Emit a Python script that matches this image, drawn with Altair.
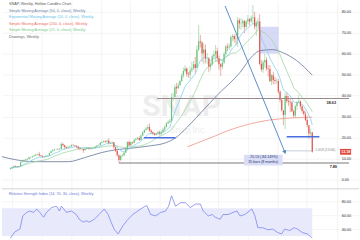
import altair as alt
import pandas as pd

# ---------------- data (weekly SNAP, week 0 = 2018-12-24) ----------------
close = [5.4, 5.9, 6.5, 6.2, 6.0, 6.3, 8.2, 8.6, 9.2, 9.5, 9.8, 10.6, 10.7, 11.0, 11.5, 11.9, 12.0, 11.4, 11.2, 10.8,
         10.9, 11.3, 11.4, 12.6, 13.5, 14.0, 14.3, 14.3, 14.6, 14.5, 17.0, 16.4, 15.5, 15.1, 15.5, 15.8, 16.4, 16.3, 16.1, 15.7,
         14.9, 14.5, 14.6, 14.0, 14.6, 15.1, 14.8, 14.6, 14.9, 15.0, 15.6, 16.2, 16.4, 17.5, 17.9, 18.3, 18.0, 18.5, 17.3, 17.5,
         17.8, 15.4, 13.7, 11.6, 9.3, 11.2, 11.5, 12.8, 14.4, 17.9, 16.2, 17.8, 17.5, 19.0, 19.5, 19.8, 18.9, 21.0, 22.4, 23.6,
         24.4, 25.1, 23.4, 22.5, 21.9, 21.4, 21.8, 22.6, 22.1, 22.7, 24.0, 25.0, 26.8, 27.5, 28.0, 39.4, 39.4, 44.2, 43.5, 45.0,
         47.0, 49.6, 51.8, 53.0, 50.3, 50.1, 52.0, 53.0, 55.0, 53.2, 62.0, 66.0, 65.4, 60.3, 62.0, 57.7, 57.8, 53.8, 55.0, 58.8,
         59.8, 61.3, 57.9, 55.0, 53.8, 55.7, 59.9, 63.5, 63.0, 63.5, 68.0, 68.5, 67.0, 66.9, 76.0, 74.5, 74.6, 75.6, 72.8, 75.5,
         76.5, 75.5, 77.2, 77.4, 73.0, 74.8, 75.4, 55.1, 52.5, 56.0, 57.0, 53.0, 52.8, 46.9, 49.8, 47.5, 47.0, 47.0, 42.0, 37.9,
         33.0, 30.8, 39.8, 37.5, 37.1, 36.8, 32.6, 30.5, 35.0, 36.9, 37.2, 35.0, 32.7, 31.1, 28.4, 26.0, 22.0, 22.4, 13.2]
high = [5.6, 6.0, 6.7, 6.6, 6.3, 6.5, 8.6, 8.9, 9.5, 9.9, 10.2, 10.8, 11.0, 11.3, 11.8, 12.3, 12.4, 13.2, 11.7, 11.4,
        11.2, 11.6, 11.8, 12.8, 13.8, 14.5, 14.6, 14.7, 14.9, 14.9, 17.8, 17.5, 16.6, 15.8, 16.1, 16.2, 16.8, 17.0, 16.5, 16.2,
        15.8, 15.1, 14.9, 14.7, 15.0, 15.4, 15.3, 15.0, 15.2, 15.3, 15.9, 16.4, 16.7, 17.8, 18.2, 18.6, 18.7, 19.0, 19.7, 17.9,
        18.3, 17.9, 15.8, 13.8, 12.0, 11.8, 12.2, 13.2, 14.8, 18.2, 18.5, 18.2, 18.0, 19.5, 20.0, 20.3, 20.6, 21.5, 23.1, 24.0,
        25.2, 26.1, 26.8, 24.0, 22.9, 22.4, 22.3, 23.2, 23.4, 23.4, 24.6, 25.8, 27.3, 28.2, 28.9, 41.2, 41.4, 45.4, 46.1, 46.3,
        47.6, 50.6, 53.4, 54.6, 53.5, 51.3, 53.8, 56.2, 56.6, 58.5, 64.0, 73.7, 69.0, 66.0, 65.0, 64.4, 60.3, 58.5, 56.2, 59.5,
        61.5, 64.2, 62.9, 59.2, 55.5, 57.4, 61.0, 64.2, 64.8, 65.0, 68.9, 69.5, 69.2, 69.2, 77.5, 77.0, 77.0, 76.6, 76.2, 76.0,
        78.5, 77.0, 78.3, 83.3, 80.0, 75.8, 77.0, 78.9, 57.0, 57.0, 60.0, 58.3, 54.6, 54.6, 50.3, 51.5, 48.9, 48.3, 48.0, 42.4,
        38.5, 33.0, 41.5, 41.7, 39.9, 38.7, 37.5, 33.4, 35.5, 37.3, 40.3, 37.8, 36.0, 33.5, 32.4, 30.0, 25.0, 24.2, 22.8]
low = [4.8, 5.3, 5.8, 6.0, 5.8, 5.9, 6.3, 8.0, 8.6, 9.0, 9.2, 9.6, 10.2, 10.4, 11.0, 11.3, 11.5, 11.1, 10.8, 10.3,
       10.4, 10.7, 11.0, 11.2, 12.5, 13.4, 13.7, 14.0, 14.1, 14.0, 14.4, 15.6, 14.3, 14.6, 14.9, 15.2, 15.7, 15.9, 15.6, 15.0,
       14.2, 14.0, 14.1, 12.7, 13.8, 14.4, 14.4, 14.3, 14.5, 14.6, 14.9, 15.5, 16.0, 16.2, 17.3, 17.6, 17.5, 17.6, 16.7, 16.9,
       17.0, 14.7, 13.0, 10.9, 7.89, 8.8, 10.6, 11.5, 12.6, 13.9, 15.8, 16.1, 16.8, 17.4, 18.6, 19.0, 18.4, 18.7, 20.8, 22.1,
       23.4, 23.8, 22.8, 21.7, 21.2, 20.9, 21.0, 21.5, 21.0, 21.2, 22.5, 22.8, 24.9, 26.3, 26.9, 27.7, 37.3, 39.0, 40.8, 43.1,
       44.8, 46.5, 48.5, 51.2, 49.0, 48.6, 48.0, 51.3, 52.5, 51.0, 53.5, 61.2, 63.0, 56.0, 55.0, 55.5, 55.0, 51.2, 52.1, 54.3,
       57.6, 56.2, 55.9, 52.4, 49.5, 52.6, 55.0, 58.8, 61.2, 61.8, 63.0, 66.0, 65.3, 64.4, 63.2, 72.0, 71.5, 72.6, 69.9, 71.9,
       74.2, 73.6, 74.7, 74.1, 71.6, 68.5, 71.8, 54.5, 51.5, 50.9, 53.5, 51.9, 49.2, 46.6, 45.0, 45.4, 45.6, 45.7, 41.0, 36.9,
       32.5, 25.9, 24.1, 36.5, 35.2, 32.1, 32.2, 29.6, 29.3, 33.1, 36.3, 33.6, 31.8, 30.6, 27.9, 24.8, 19.4, 20.8, 12.8]
first_open = 5.0

# longer moving averages (need history before the window)
sma50_wk = [-5.0, 2.6, 14.3, 34.2, 43.6, 53.5, 62.3, 68.1, 82.7, 91.5, 97.4, 104.4, 113.7, 121.9, 135.4, 143.0, 147.1, 154.7, 160.5, 168.7, 178]
sma50_val = [10.9, 9.5, 8.5, 8.5, 10.4, 12.8, 14.2, 14.7, 16.1, 17.5, 19.9, 25.1, 33.1, 40.2, 51.1, 59.2, 61.5, 62.0, 60.6, 56.8, 49.8]
sma200_wk = [104.4, 112.0, 120.8, 129.5, 141.2, 152.9, 164.6, 178]
sma200_val = [15.6, 18.0, 20.8, 23.7, 26.5, 28.4, 29.3, 29.8]

rsi_wk = [0, 2.6, 5.6, 7.3, 9.6, 11.4, 13.7, 15.5, 17.3, 19.6, 21.3, 24.3, 27.2, 28.9, 30.1, 33.0, 36.0, 38.9, 40.6, 43.0,
          44.7, 46.5, 49.4, 52.3, 55.3, 57.6, 59.4, 61.1, 63.5, 66.4, 69.3, 72.2, 75.1, 78.1, 80.4, 82.7, 85.7, 88.6, 91.5, 93.3,
          95.0, 97.4, 100.3, 103.2, 106.1, 109.1, 112.0, 113.7, 116.7, 119.0, 120.8, 123.7, 125.4, 128.4, 131.3, 133.6, 135.4, 138.3, 142.4, 144.2,
          145.9, 148.8, 151.8, 154.7, 157.6, 159.9, 161.7, 164.6, 167.5, 169.3, 172.2, 175.1, 178]
rsi_val = [27, 36, 40, 59, 64, 66, 64, 69, 64, 57, 64, 71, 73, 66, 73, 64, 66, 61, 54, 50,
           52, 50, 54, 61, 69, 61, 50, 40, 33, 45, 54, 61, 66, 71, 74, 61, 59, 64, 66, 73,
           88, 73, 78, 78, 71, 76, 76, 66, 59, 61, 57, 54, 61, 61, 64, 66, 59, 61, 69, 59,
           42, 42, 39, 40, 35, 33, 40, 38, 42, 40, 35, 33, 27]

price_ticks = [0, 10, 20, 30, 40, 50, 60, 70, 80]
rsi_ticks = [40, 60, 80]
grid_dates = ["2019-01-01", "2019-05-01", "2019-09-01", "2020-01-01", "2020-05-01", "2020-09-01",
              "2021-01-01", "2021-05-01", "2021-09-01", "2022-01-01", "2022-05-01", "2022-09-01"]
start_date = "2018-12-24"

# drawings (week index / price)
levels = [38.63, 7.89]
level_start = [86.5, 64.0]
level_end = 199.7
support_price = [19.9, 20.4]
support_start = [78.7, 162.9]
support_end = [97.4, 182.2]
arrow_wk = [126.6, 161.7]
arrow_price = [82.8, 13.3]
box_wk = [147.1, 158.2]
box_price = [60.1, 72.9]
fib_price = 13.66
fib_wk = [161.7, 178.0]
measure_lines = ["-70.13 (-84.149%)", "35 bars (8 months)"]
last_price = 13.18

legend_rows = [
    ("SNAP, Weekly, Hollow Candles Chart", "#555555"),
    ("Simple Moving Average (50, 0, close), Weekly", "#6a77a0"),
    ("Exponential Moving Average (10, 0, close), Weekly", "#5fc0ea"),
    ("Simple Moving Average (200, 0, close), Weekly", "#ec6a64"),
    ("Simple Moving Average (21, 0, close), Weekly", "#73c980"),
    ("Drawings, Weekly", "#666666"),
]

# ---------------- frames ----------------
n = len(close)
df = pd.DataFrame({"wk": list(range(n)), "close": close, "high": high, "low": low})
df["open"] = [first_open] + close[:-1]
df["dir"] = ["up" if c >= o else "down" for c, o in zip(df["close"], df["open"])]
df["ema10"] = df["close"].ewm(span=10, adjust=False).mean()
df["sma21"] = df["close"].rolling(21, min_periods=1).mean()

t0 = pd.Timestamp(start_date)
grid_wk = [(pd.Timestamp(d) - t0).days / 7 for d in grid_dates]

X0, X1 = -4.97, 205.56
FONT = "Liberation Sans"
xs = alt.Scale(domain=[X0, X1], nice=False, zero=False)
ys = alt.Scale(domain=[-3.79, 85.2], nice=False, zero=False)
rs = alt.Scale(domain=[25.7, 100], nice=False, zero=False)

xax = alt.Axis(values=grid_wk, grid=True, gridColor="#ececec", gridWidth=0.6, labels=False,
               ticks=False, domain=False, title=None)
yax = alt.Axis(orient="right", values=price_ticks, format=".2f", grid=True, gridColor="#eeeeee",
               gridWidth=0.6, ticks=False, domain=False, labelPadding=-18, labelAlign="left",
               labelFontSize=3.8, labelColor="#333333", labelFont=FONT, labelOverlap=False,
               labelBound=False, labelFlush=False, title=None)
rax = alt.Axis(orient="right", values=rsi_ticks, format=".2f", grid=True, gridColor="#eeeeee",
               gridWidth=0.6, ticks=False, domain=False, labelPadding=-18, labelAlign="left",
               labelFontSize=3.8, labelColor="#333333", labelFont=FONT, labelOverlap=False,
               labelBound=False, labelFlush=False, title=None)

GREEN, RED = "#6cc07a", "#e0564b"
cscale = alt.Scale(domain=["up", "down"], range=[GREEN, RED])


def X(f):
    return alt.X(f, scale=xs, axis=xax)


def Y(f):
    return alt.Y(f, scale=ys, axis=yax)


def RX(f):
    return alt.X(f, scale=xs, axis=xax)


def RY(f):
    return alt.Y(f, scale=rs, axis=rax)


wm1 = alt.Chart(pd.DataFrame({"t": ["SNAP"]})).mark_text(font="Roboto", fontWeight="bold", fontSize=30, color="#ededed").encode(
    text="t:N", x=alt.value(181), y=alt.value(107))
wm2 = alt.Chart(pd.DataFrame({"t": ["Snap Inc."]})).mark_text(font="Roboto", fontSize=9, color="#efefef").encode(
    text="t:N", x=alt.value(188), y=alt.value(130))

box = alt.Chart(pd.DataFrame({"a": [box_wk[0]], "b": [box_wk[1]], "lo": [box_price[0]], "hi": [box_price[1]]})).mark_rect(
    color="#c9cdf3", opacity=0.75).encode(x=X("a:Q"), x2="b:Q", y=Y("lo:Q"), y2="hi:Q")

s200 = alt.Chart(pd.DataFrame({"wk": sma200_wk, "v": sma200_val})).mark_line(
    color="#f2a093", strokeWidth=0.9, interpolate="monotone").encode(x=X("wk:Q"), y=Y("v:Q"))
s50 = alt.Chart(pd.DataFrame({"wk": sma50_wk, "v": sma50_val})).mark_line(
    color="#65749a", strokeWidth=0.8, interpolate="monotone").encode(x=X("wk:Q"), y=Y("v:Q"))
s21 = alt.Chart(df).mark_line(color="#9ed6a5", strokeWidth=0.8).encode(x=X("wk:Q"), y=Y("sma21:Q"))
e10 = alt.Chart(df).mark_line(color="#86d0ee", strokeWidth=0.8).encode(x=X("wk:Q"), y=Y("ema10:Q"))

wick = alt.Chart(df).mark_rule(strokeWidth=0.5).encode(
    x=X("wk:Q"), y=Y("low:Q"), y2="high:Q",
    color=alt.Color("dir:N", scale=cscale, legend=None))
body = alt.Chart(df).mark_rule(strokeWidth=1.2).encode(
    x=X("wk:Q"), y=Y("open:Q"), y2="close:Q", color=alt.Color("dir:N", scale=cscale, legend=None))

lv = pd.DataFrame({"a": level_start, "b": [level_end] * 2, "p": levels, "c": ["#9c8b8b", "#7a7a7a"]})
lvl = alt.Chart(lv).mark_rule(strokeWidth=1.1).encode(
    x=X("a:Q"), x2="b:Q", y=Y("p:Q"), color=alt.Color("c:N", scale=None))
sup = alt.Chart(pd.DataFrame({"a": support_start, "b": support_end, "p": support_price})).mark_rule(
    color="#4a6ee0", strokeWidth=1.4).encode(x=X("a:Q"), x2="b:Q", y=Y("p:Q"))
fib = alt.Chart(pd.DataFrame({"a": [fib_wk[0]], "b": [fib_wk[1]], "p": [fib_price]})).mark_rule(
    color="#b0b8c8", strokeWidth=0.7).encode(x=X("a:Q"), x2="b:Q", y=Y("p:Q"))
arr = alt.Chart(pd.DataFrame({"a": [arrow_wk[0]], "b": [arrow_wk[1]], "p": [arrow_price[0]], "q": [arrow_price[1]]})).mark_rule(
    color="#5b8ec6", strokeWidth=1).encode(x=X("a:Q"), x2="b:Q", y=Y("p:Q"), y2="q:Q")
head = alt.Chart(pd.DataFrame({"a": [arrow_wk[1]], "p": [arrow_price[1]]})).mark_point(
    shape="triangle", angle=158, size=18, filled=True, color="#4f86c4", opacity=1).encode(x=X("a:Q"), y=Y("p:Q"))

mbox = alt.Chart(pd.DataFrame({"a": [137.7], "b": [160.5], "lo": [6.63], "hi": [11.83]})).mark_rect(
    color="#d9ddf6").encode(x=X("a:Q"), x2="b:Q", y=Y("lo:Q"), y2="hi:Q")
mtxt = alt.Chart(pd.DataFrame({"wk": [149.1, 149.1], "p": [10.65, 8.28], "t": measure_lines})).mark_text(
    font=FONT, fontSize=3.6, color="#27346b").encode(x=X("wk:Q"), y=Y("p:Q"), text="t:N")

lvl_lbl = alt.Chart(pd.DataFrame({"wk": [189.2, 190.4], "p": levels, "t": ["%.2f" % v for v in levels]})).mark_text(
    font=FONT, fontSize=3.8, fontWeight="bold", color="#222222", dy=4).encode(x=X("wk:Q"), y=Y("p:Q"), text="t:N")
fib_lbl = alt.Chart(pd.DataFrame({"wk": [185.7], "p": [fib_price], "t": ["1.618 (%.2f)" % fib_price]})).mark_text(
    font=FONT, fontSize=3.4, color="#8a8a8a", dy=-0.5).encode(x=X("wk:Q"), y=Y("p:Q"), text="t:N")
lp_box = alt.Chart(pd.DataFrame({"a": [194.4], "b": [200.9], "lo": [11.83], "hi": [14.6]})).mark_rect(
    color="#e0463c").encode(x=X("a:Q"), x2="b:Q", y=Y("lo:Q"), y2="hi:Q")
lp_txt = alt.Chart(pd.DataFrame({"wk": [197.7], "p": [last_price], "t": ["%.2f" % last_price]})).mark_text(
    font=FONT, fontSize=3.6, fontWeight="bold", color="white").encode(x=X("wk:Q"), y=Y("p:Q"), text="t:N")

legend_layers = []
for i, (txt, col) in enumerate(legend_rows):
    ypos = 2.6 if i == 0 else 10 + (i - 1) * 6.5
    legend_layers.append(
        alt.Chart(pd.DataFrame({"t": [txt]})).mark_text(
            font=FONT, fontSize=3.8, color=col, align="left", baseline="middle").encode(
            text="t:N", x=alt.value(7), y=alt.value(ypos)))

price = alt.layer(wick, wm1, wm2, box, s200, s50, s21, e10, body, lvl, sup, fib, arr, head,
                  mbox, mtxt, lvl_lbl, fib_lbl, lp_box, lp_txt, *legend_layers).properties(width=360, height=188)

# ---------------- RSI panel ----------------
band = alt.Chart(pd.DataFrame({"a": [X0], "b": [178], "lo": [30], "hi": [70]})).mark_rect(
    color="#e8eafb").encode(x=RX("a:Q"), x2="b:Q", y=RY("lo:Q"), y2="hi:Q")
rline = alt.Chart(pd.DataFrame({"wk": rsi_wk, "v": rsi_val})).mark_line(
    color="#7d86ee", strokeWidth=0.8).encode(x=RX("wk:Q"), y=RY("v:Q"))
sep = alt.Chart(pd.DataFrame({"t": ["sep"]})).mark_rule(color="#e2e2e2", strokeWidth=1.5).encode(
    x=alt.value(0), x2=alt.value(360), y=alt.value(1.2))
rtitle = alt.Chart(pd.DataFrame({"t": ["Relative Strength Index (14, 70, 30, close), Weekly"]})).mark_text(
    font=FONT, fontSize=3.8, color="#6a75d8", align="left", baseline="middle").encode(
    text="t:N", x=alt.value(7), y=alt.value(7))

rsi = alt.layer(band, rline, sep, rtitle).properties(width=360, height=52)

chart = alt.vconcat(price, rsi, spacing=0).properties(padding=0, background="white").configure_view(strokeWidth=0)

chart.save("out.html", embed_options={"renderer": "svg", "actions": False})
